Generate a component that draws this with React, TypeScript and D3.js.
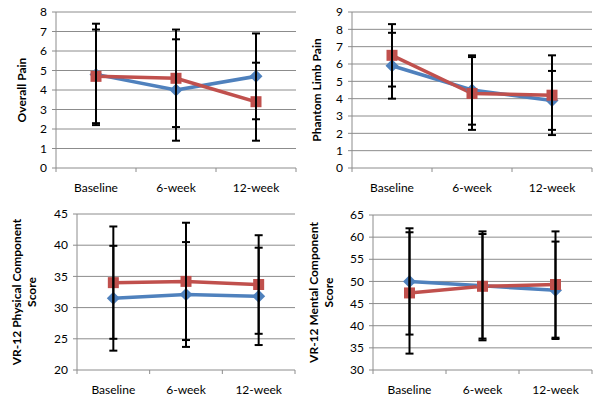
import React from "react";
import * as d3 from "d3";

const categories = ["Baseline", "6-week", "12-week"];

const painBlue = [4.8, 4.0, 4.7];
const painBlueErr = [2.6, 2.6, 2.2];
const painRed = [4.7, 4.6, 3.4];
const painRedErr = [2.4, 2.5, 2.0];

const phantomBlue = [5.9, 4.5, 3.9];
const phantomBlueErr = [1.9, 2.0, 1.7];
const phantomRed = [6.5, 4.3, 4.2];
const phantomRedErr = [1.8, 2.1, 2.3];

const physBlue = [31.5, 32.1, 31.8];
const physBlueErr = [8.4, 8.4, 7.8];
const physRed = [34.0, 34.2, 33.7];
const physRedErr = [9.0, 9.4, 7.9];

const mentBlue = [50.0, 49.0, 48.0];
const mentBlueErr = [12.0, 12.3, 11.0];
const mentRed = [47.4, 48.9, 49.3];
const mentRedErr = [13.7, 11.8, 12.0];

const BLUE = "#4F81BD";
const RED = "#C0504D";
const FONT = "Lato, 'Open Sans', sans-serif";

type PanelProps = {
  left: number; right: number; top: number; bottom: number;
  domain: [number, number]; step: number;
  title: string[]; titleX: number;
  blue: number[]; blueErr: number[]; red: number[]; redErr: number[];
};

function Panel(p: PanelProps) {
  const x = d3.scaleBand<string>().domain(categories).range([p.left, p.right]);
  const y = d3.scaleLinear().domain(p.domain).range([p.bottom, p.top]);
  const ticks = d3.range(p.domain[0], p.domain[1] + p.step / 2, p.step);
  const cx = (c: string) => (x(c) as number) + x.bandwidth() / 2;
  const line = d3.line<number>().x((_, i) => cx(categories[i])).y((v) => y(v));
  const boundaries = d3.range(categories.length + 1).map((i) => p.left + i * x.bandwidth());
  const cy = (p.top + p.bottom) / 2;
  const errBars = (vals: number[], errs: number[], key: string) =>
    vals.map((v, i) => {
      const xx = cx(categories[i]);
      const y1 = y(v + errs[i]);
      const y2 = y(v - errs[i]);
      return (
        <g key={key + i} stroke="#000" strokeWidth={2}>
          <line x1={xx} x2={xx} y1={y1} y2={y2} />
          <line x1={xx - 4} x2={xx + 4} y1={y1} y2={y1} />
          <line x1={xx - 4} x2={xx + 4} y1={y2} y2={y2} />
        </g>
      );
    });
  return (
    <g>
      {ticks.map((t) => (
        <line key={"g" + t} x1={p.left} x2={p.right} y1={y(t)} y2={y(t)} stroke="#8C8C8C" strokeWidth={1} />
      ))}
      <line x1={p.left} x2={p.left} y1={p.top} y2={p.bottom} stroke="#8C8C8C" strokeWidth={1} />
      {ticks.map((t) => (
        <line key={"t" + t} x1={p.left - 4} x2={p.left} y1={y(t)} y2={y(t)} stroke="#8C8C8C" strokeWidth={1} />
      ))}
      {boundaries.map((b, i) => (
        <line key={"b" + i} x1={b} x2={b} y1={p.bottom} y2={p.bottom + 4} stroke="#8C8C8C" strokeWidth={1} />
      ))}
      {ticks.map((t) => (
        <text key={"l" + t} x={p.left - 9} y={y(t)} dy="0.35em" textAnchor="end" fontSize={12} fill="#000" fontFamily={FONT}>
          {t}
        </text>
      ))}
      {categories.map((c) => (
        <text key={"c" + c} x={cx(c)} y={p.bottom + 24} textAnchor="middle" fontSize={12} fill="#000" fontFamily={FONT}>
          {c}
        </text>
      ))}
      <text transform={`translate(${p.titleX},${cy}) rotate(-90)`} textAnchor="middle" fontSize={12} fontWeight="bold" fill="#000" fontFamily={FONT}>
        {p.title.map((t, i) => (
          <tspan key={i} x={0} dy={i === 0 ? (p.title.length > 1 ? "0em" : "0.35em") : "1.25em"}>{t}</tspan>
        ))}
      </text>
      <path d={line(p.blue) || ""} fill="none" stroke={BLUE} strokeWidth={3.5} strokeLinejoin="round" />
      <path d={line(p.red) || ""} fill="none" stroke={RED} strokeWidth={3.5} strokeLinejoin="round" />
      {p.blue.map((v, i) => {
        const xx = cx(categories[i]);
        const yy = y(v);
        return <path key={"d" + i} d={`M${xx},${yy - 6.5}L${xx + 6.5},${yy}L${xx},${yy + 6.5}L${xx - 6.5},${yy}Z`} fill={BLUE} />;
      })}
      {p.red.map((v, i) => {
        const xx = cx(categories[i]);
        const yy = y(v);
        return <rect key={"s" + i} x={xx - 5.5} y={yy - 5.5} width={11} height={11} fill={RED} />;
      })}
      {errBars(p.blue, p.blueErr, "eb")}
      {errBars(p.red, p.redErr, "er")}
    </g>
  );
}

export default function App() {
  return (
    <svg width={600} height={402} style={{ position: "absolute", left: 0, top: 0, background: "#fff" }}>
      <rect width={600} height={402} fill="#fff" />
      <Panel left={56} right={296} top={12} bottom={168} domain={[0, 8]} step={1} title={["Overall Pain"]} titleX={22}
        blue={painBlue} blueErr={painBlueErr} red={painRed} redErr={painRedErr} />
      <Panel left={352} right={592} top={12} bottom={168} domain={[0, 9]} step={1} title={["Phantom Limb Pain"]} titleX={317}
        blue={phantomBlue} blueErr={phantomBlueErr} red={phantomRed} redErr={phantomRedErr} />
      <Panel left={77} right={295} top={214} bottom={370} domain={[20, 45]} step={5} title={["VR-12 Physical Component", "Score"]} titleX={21}
        blue={physBlue} blueErr={physBlueErr} red={physRed} redErr={physRedErr} />
      <Panel left={373} right={592} top={215} bottom={370} domain={[30, 65]} step={5} title={["VR-12 Mental Component", "Score"]} titleX={318}
        blue={mentBlue} blueErr={mentBlueErr} red={mentRed} redErr={mentRedErr} />
    </svg>
  );
}
